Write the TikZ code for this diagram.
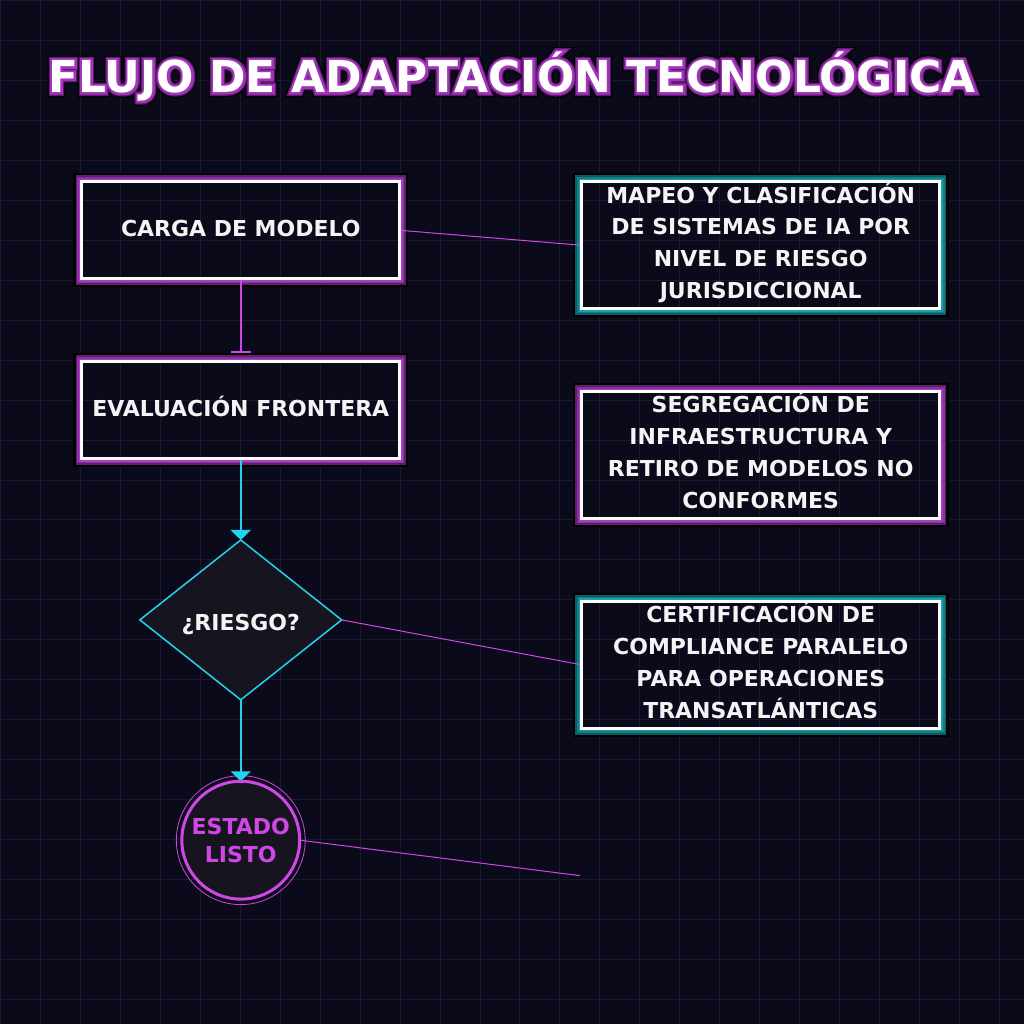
\documentclass[tikz,border=0pt]{standalone}
\usepackage{fontspec}
\setmainfont{DejaVu Sans}
\newfontfamily\ttlblack{DejaVu Sans Bold}[FakeBold=22]
\newfontfamily\ttldark{DejaVu Sans Bold}[FakeBold=16]
\newfontfamily\ttlpurple{DejaVu Sans Bold}[FakeBold=10]
\newfontfamily\ttlwhite{DejaVu Sans Bold}
\usetikzlibrary{shapes.geometric,arrows.meta}
\definecolor{bgc}{HTML}{0B0A1A}
\definecolor{gridc}{HTML}{1A1930}
\definecolor{dfill}{HTML}{16151F}
\definecolor{mag}{HTML}{D147E6}
\definecolor{cyn}{HTML}{22D3EE}
\definecolor{txtw}{HTML}{F4F4F4}
\definecolor{pdark}{HTML}{5E1F6E}
\definecolor{pmid}{HTML}{8A2FA0}
\definecolor{pbright}{HTML}{A940BF}
\definecolor{tdark}{HTML}{0E5A62}
\definecolor{tmid}{HTML}{137D89}
\definecolor{tbright}{HTML}{1BA0B2}
\definecolor{ttldk}{HTML}{5C1A6C}
\definecolor{ttlmid}{HTML}{A235BA}
\pgfdeclarelayer{back}
\pgfdeclarelayer{edges}
\pgfsetlayers{back,edges,main}
\newcommand\lowstrut{\rule[-9pt]{0pt}{9pt}}
\newcommand\glowframe[4]{%
  \draw[black, line width=2.5pt] ([shift={(-7.45pt,7.45pt)}]#1.north west) rectangle ([shift={(7.45pt,-7.45pt)}]#1.south east);
  \draw[#2, line width=1.9pt] ([shift={(-5.45pt,5.45pt)}]#1.north west) rectangle ([shift={(5.45pt,-5.45pt)}]#1.south east);
  \draw[#3, line width=1.8pt] ([shift={(-3.8pt,3.8pt)}]#1.north west) rectangle ([shift={(3.8pt,-3.8pt)}]#1.south east);
  \draw[#4, line width=1.7pt] ([shift={(-2.25pt,2.25pt)}]#1.north west) rectangle ([shift={(2.25pt,-2.25pt)}]#1.south east);
}
\tikzset{
  gridline/.style={gridc, line width=1pt},
  boxtxt/.style={font=\fontsize{22}{32}\selectfont\bfseries, text=txtw},
  leftbox/.style={boxtxt, rectangle, draw=white, line width=3pt, outer sep=0pt, inner sep=0pt,
    minimum width=318pt, minimum height=97pt, text height=12pt, text depth=0pt},
  rightbox/.style={boxtxt, rectangle, draw=white, line width=3pt, outer sep=0pt, inner sep=0pt,
    minimum width=358.5pt, minimum height=127pt, align=center},
  decision/.style={boxtxt, diamond, draw=cyn, line width=1.5pt, fill=dfill, inner sep=0pt, outer sep=0pt,
    minimum width=202pt, minimum height=160pt, aspect=1.2625, text height=22pt, text depth=0pt},
  endstate/.style={font=\fontsize{22}{28}\selectfont\bfseries, text=mag, circle, draw=mag, line width=3pt,
    fill=dfill, minimum size=118pt, inner sep=0pt, outer sep=0pt, align=center},
  thinlink/.style={mag, line width=1pt},
  barlink/.style={mag, line width=2pt, -{Bar[width=20pt]}, shorten >=9pt},
  flowlink/.style={cyn, line width=2pt, -{Triangle[width=20pt,length=10pt]}},
  titletxt/.style={anchor=base, inner sep=0pt},
}
\begin{document}
\begin{tikzpicture}[x=1pt,y=-1pt]
\begin{pgfonlayer}{back}
  \fill[bgc] (0,0) rectangle (1024,1024);
  \foreach \i in {0,40,...,1000} {
    \draw[gridline] (\i,0) -- (\i,1024);
    \draw[gridline] (0,\i) -- (1024,\i);
  }
\end{pgfonlayer}
\useasboundingbox (0,0) rectangle (1024,1024);

% title with outline
\node[titletxt, text=black, font=\fontsize{44}{52}\ttlblack] (tshadow) at (512,92) {FLUJO DE ADAPTACIÓN TECNOLÓGICA};
\node[titletxt, text=ttldk, font=\fontsize{44}{52}\ttldark] (tglowdk) at (512,92) {FLUJO DE ADAPTACIÓN TECNOLÓGICA};
\node[titletxt, text=ttlmid, font=\fontsize{44}{52}\ttlpurple] (tglow) at (512,92) {FLUJO DE ADAPTACIÓN TECNOLÓGICA};
\node[titletxt, text=white, font=\fontsize{44}{52}\ttlwhite] (title) at (512,92) {FLUJO DE ADAPTACIÓN TECNOLÓGICA};

% nodes
\node[leftbox] (a) at (240.5,230) {CARGA DE MODELO};
\node[leftbox] (b) at (240.5,410) {EVALUACIÓN FRONTERA};
\node[decision] (d) at (240.5,620) {¿RIESGO?};
\node[endstate] (e) at (240.5,840.5) {ESTADO\\LISTO};
\node[rightbox] (r1) at (761,245) {MAPEO Y CLASIFICACIÓN\\DE SISTEMAS DE IA POR\\NIVEL DE RIESGO\\JURISDICCIONAL\lowstrut};
\node[rightbox] (r2) at (761,455) {SEGREGACIÓN DE\\INFRAESTRUCTURA Y\\RETIRO DE MODELOS NO\\CONFORMES\lowstrut};
\node[rightbox] (r3) at (761,665) {CERTIFICACIÓN DE\\COMPLIANCE PARALELO\\PARA OPERACIONES\\TRANSATLÁNTICAS\lowstrut};
\coordinate (free) at (580,876);

\begin{pgfonlayer}{back}
  \glowframe{a}{pdark}{pmid}{pbright}
  \glowframe{b}{pdark}{pmid}{pbright}
  \glowframe{r1}{tdark}{tmid}{tbright}
  \glowframe{r2}{pdark}{pmid}{pbright}
  \glowframe{r3}{tdark}{tmid}{tbright}
\end{pgfonlayer}

\begin{pgfonlayer}{edges}
  \draw[mag, line width=0.8pt] (e.center) circle[radius=64.5];
  \draw[thinlink] (a.east) -- (r1.west);
  \draw[thinlink] (d.east) -- (r3.west);
  \draw[thinlink] (e.east) -- (free);
  \draw[barlink] (a.south) -- (b.north);
  \draw[flowlink] (b.south) -- (d.north);
  \draw[flowlink] (d.south) -- (e.north);
\end{pgfonlayer}
\end{tikzpicture}
\end{document}
